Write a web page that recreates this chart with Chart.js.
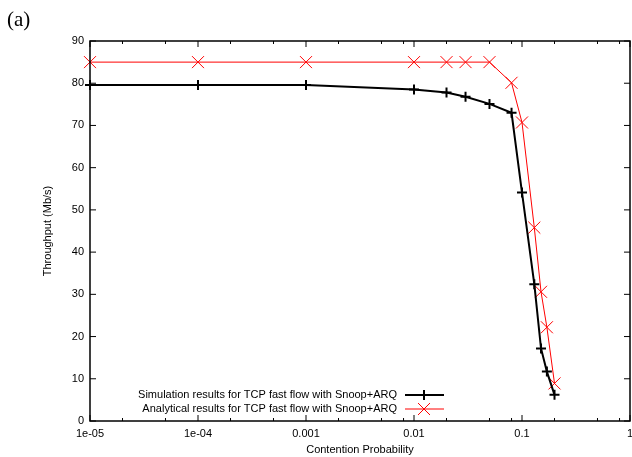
<!DOCTYPE html>
<html>
<head>
<meta charset="utf-8">
<script src="https://cdn.jsdelivr.net/npm/chart.js@4"></script>
<style>
  html, body { margin: 0; padding: 0; background: #fff; }
  #wrap { width: 632px; height: 457px; position: relative; }
</style>
</head>
<body>
<div id="wrap"><canvas id="chart"></canvas></div>
<script>
// contention probability (x) and throughput in Mb/s (y)
const simX = [1e-5, 1e-4, 0.001, 0.01, 0.02, 0.03, 0.05, 0.08, 0.1, 0.13, 0.15, 0.17, 0.2];
const simY = [79.6, 79.6, 79.6, 78.5, 77.8, 76.8, 75.1, 73.0, 54.1, 32.4, 17.2, 11.7, 6.2];
const anaX = [1e-5, 1e-4, 0.001, 0.01, 0.02, 0.03, 0.05, 0.08, 0.1, 0.13, 0.15, 0.17, 0.2];
const anaY = [85, 85, 85, 85, 85, 85, 85, 80.1, 70.7, 45.8, 30.6, 22.2, 8.9];

const xTicks = [1e-5, 1e-4, 0.001, 0.01, 0.1, 1];
const xTickLabels = ['1e-05', '1e-04', '0.001', '0.01', '0.1', '1'];
const xMinorTicks = [2e-5, 5e-5, 2e-4, 5e-4, 0.002, 0.005, 0.008, 0.02, 0.05, 0.08, 0.2, 0.5, 0.8];
const yTicks = [0, 10, 20, 30, 40, 50, 60, 70, 80, 90];

const simLabel = 'Simulation results for TCP fast flow with Snoop+ARQ';
const anaLabel = 'Analytical results for TCP fast flow with Snoop+ARQ';

const sans = 'Liberation Sans, Arial, sans-serif';

function pts(xs, ys) {
  return xs.map((x, i) => ({ x: x, y: ys[i] }));
}

// box, inward ticks, titles and legend in gnuplot style
const decor = {
  id: 'decor',
  afterDraw(chart) {
    const ctx = chart.ctx;
    const a = chart.chartArea;
    const xs = chart.scales.x, ys = chart.scales.y;
    ctx.save();
    ctx.strokeStyle = '#000';
    ctx.lineWidth = 1.5;
    ctx.strokeRect(a.left, a.top, a.right - a.left, a.bottom - a.top);

    ctx.lineWidth = 1;
    ctx.beginPath();
    xTicks.forEach(v => {
      const px = xs.getPixelForValue(v);
      ctx.moveTo(px, a.bottom); ctx.lineTo(px, a.bottom - 6);
      ctx.moveTo(px, a.top); ctx.lineTo(px, a.top + 6);
    });
    xMinorTicks.forEach(v => {
      const px = xs.getPixelForValue(v);
      ctx.moveTo(px, a.bottom); ctx.lineTo(px, a.bottom - 3);
      ctx.moveTo(px, a.top); ctx.lineTo(px, a.top + 3);
    });
    yTicks.forEach(v => {
      const py = ys.getPixelForValue(v);
      ctx.moveTo(a.left, py); ctx.lineTo(a.left + 6, py);
      ctx.moveTo(a.right, py); ctx.lineTo(a.right - 6, py);
    });
    ctx.stroke();

    ctx.fillStyle = '#000';
    ctx.font = '11px ' + sans;
    ctx.textAlign = 'center';
    ctx.textBaseline = 'middle';
    ctx.fillText('Contention Probability', (a.left + a.right) / 2, 450);
    ctx.save();
    ctx.translate(48, (a.top + a.bottom) / 2);
    ctx.rotate(-Math.PI / 2);
    ctx.fillText('Throughput (Mb/s)', 0, 0);
    ctx.restore();

    ctx.font = '21px Liberation Serif, Times New Roman, serif';
    ctx.textAlign = 'left';
    ctx.textBaseline = 'alphabetic';
    ctx.fillText('(a)', 7, 26);

    // legend
    ctx.font = '11px ' + sans;
    ctx.textAlign = 'right';
    ctx.textBaseline = 'middle';
    const rows = [
      { label: simLabel, color: '#000', width: 2, y: 395, mark: 'plus' },
      { label: anaLabel, color: '#ff0000', width: 1, y: 409, mark: 'x' }
    ];
    rows.forEach(r => {
      ctx.fillStyle = '#000';
      ctx.fillText(r.label, 397, r.y);
      ctx.strokeStyle = r.color;
      ctx.lineWidth = r.width;
      ctx.beginPath();
      ctx.moveTo(405, r.y); ctx.lineTo(444, r.y);
      const cx = 424;
      if (r.mark === 'plus') {
        ctx.moveTo(cx - 5, r.y); ctx.lineTo(cx + 5, r.y);
        ctx.moveTo(cx, r.y - 5); ctx.lineTo(cx, r.y + 5);
      } else {
        ctx.moveTo(cx - 6, r.y - 6); ctx.lineTo(cx + 6, r.y + 6);
        ctx.moveTo(cx - 6, r.y + 6); ctx.lineTo(cx + 6, r.y - 6);
      }
      ctx.stroke();
    });
    ctx.restore();
  }
};

new Chart(document.getElementById('chart'), {
  type: 'line',
  data: {
    datasets: [{
      label: simLabel,
      data: pts(simX, simY),
      borderColor: '#000',
      borderWidth: 2,
      pointStyle: 'cross',
      pointRadius: 5,
      pointBorderWidth: 2,
      pointBorderColor: '#000',
      pointBackgroundColor: '#000',
      tension: 0,
      clip: false
    }, {
      label: anaLabel,
      data: pts(anaX, anaY),
      borderColor: '#ff0000',
      borderWidth: 1,
      pointStyle: 'crossRot',
      pointRadius: 8.5,
      pointBorderWidth: 1,
      pointBorderColor: '#ff0000',
      pointBackgroundColor: '#ff0000',
      tension: 0,
      clip: false
    }]
  },
  options: {
    responsive: true,
    maintainAspectRatio: false,
    animation: false,
    layout: { autoPadding: false, padding: { top: 41, right: 2, left: 0, bottom: 0 } },
    scales: {
      x: {
        type: 'logarithmic',
        min: 1e-5,
        max: 1,
        grid: { display: false, drawTicks: false },
        border: { display: false },
        afterBuildTicks: scale => { scale.ticks = xTicks.map(v => ({ value: v })); },
        afterFit: scale => {
          scale.height = 36;
          scale.paddingLeft = 0;
          scale.paddingRight = 0;
        },
        ticks: {
          color: '#000',
          font: { family: sans, size: 11 },
          padding: 6,
          maxRotation: 0,
          autoSkip: false,
          callback: (v, i) => xTickLabels[i]
        }
      },
      y: {
        min: 0,
        max: 90,
        grid: { display: false, drawTicks: false },
        border: { display: false },
        afterFit: scale => {
          scale.width = 90;
          scale.paddingTop = 0;
          scale.paddingBottom = 0;
        },
        ticks: {
          color: '#000',
          font: { family: sans, size: 11 },
          stepSize: 10,
          padding: 6
        }
      }
    },
    plugins: {
      legend: { display: false },
      tooltip: { enabled: false }
    }
  },
  plugins: [decor]
});
</script>
</body>
</html>
